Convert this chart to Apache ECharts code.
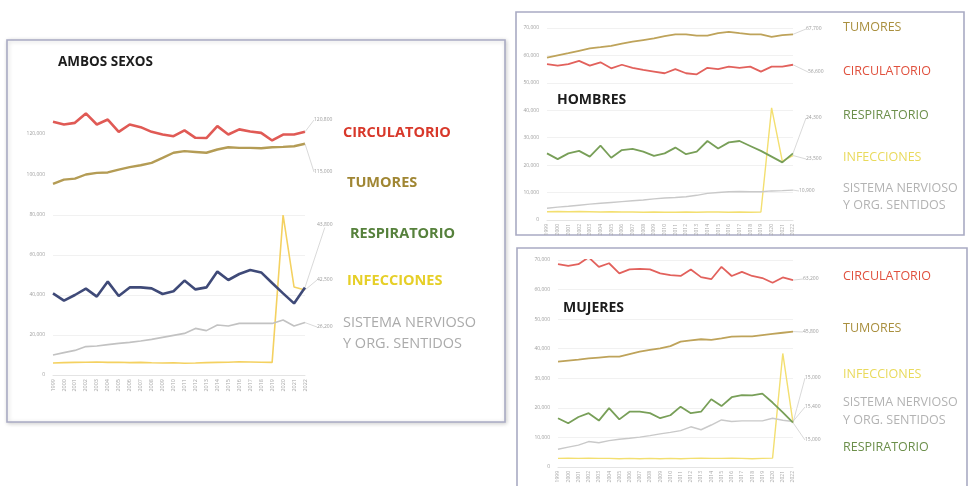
<!DOCTYPE html>
<html>
<head>
<meta charset="utf-8">
<script src="https://cdn.jsdelivr.net/npm/echarts@6/dist/echarts.min.js"></script>
<style>
  html, body { margin: 0; padding: 0; background: #ffffff; }
  #chart { width: 973px; height: 486px; }
</style>
</head>
<body>
<div id="chart"></div>
<script>
// Años (eje X)
const years = ['1999','2000','2001','2002','2003','2004','2005','2006','2007','2008','2009','2010',
               '2011','2012','2013','2014','2015','2016','2017','2018','2019','2020','2021','2022'];

// Ambos sexos: defunciones por grupo de causas
const ambosCirculatorio = [125700,124400,125200,129800,124400,126800,120800,124400,123100,120800,119500,118700,
                           121500,117900,117800,123600,119500,122000,121000,120300,116600,119500,119500,120800];
const ambosTumores      = [95400,97500,98000,100000,100800,101000,102400,103600,104500,105700,108100,110600,
                           111400,111000,110600,112200,113300,113000,113000,112800,113300,113500,113800,115000];
const ambosRespiratorio = [40800,37200,40000,43200,39200,46700,39500,43800,43800,43300,40500,41900,
                           47200,42800,43800,51700,47500,50500,52500,51300,46000,40800,35800,43800];
const ambosInfecciones  = [6000,6200,6300,6400,6500,6300,6400,6200,6300,6100,6000,6100,
                           5900,6000,6200,6300,6400,6600,6500,6400,6300,80000,44000,42500];
const ambosNervioso     = [10000,11200,12300,14200,14500,15200,15800,16300,17000,17800,18800,19800,
                           20800,23300,22200,25000,24500,25800,25800,25800,25800,27500,24500,26200];

// Hombres
const hombresTumores      = [59200,60000,60800,61700,62600,63000,63500,64300,65000,65600,66200,67000,
                             67700,67700,67200,67200,68100,68600,68100,67700,67700,66800,67400,67700];
const hombresCirculatorio = [56800,56300,56800,58000,56300,57500,55300,56600,55500,54700,54100,53500,
                             55000,53500,53100,55500,55000,55900,55500,55900,54100,55900,55900,56600];
const hombresRespiratorio = [24300,22200,24300,25200,23100,27100,22700,25500,25900,24900,23400,24300,
                             26400,24000,24900,28800,26100,28300,28800,27000,25200,23100,21000,24300];
const hombresInfecciones  = [3000,3100,3000,3100,3000,2900,3000,2900,2900,2800,2900,2800,
                             2800,2900,2800,2900,2900,2800,2900,2800,2900,40900,21500,23500];
const hombresNervioso     = [4300,4700,5000,5400,5800,6100,6400,6700,7000,7300,7700,8000,
                             8200,8500,9000,9700,10000,10300,10400,10300,10300,10600,10700,10900];

// Mujeres
const mujeresCirculatorio = [68600,68000,68600,70900,67700,68900,65500,66800,67000,66800,65500,64900,
                             64600,66800,64200,63500,67700,64600,66000,64600,63900,62300,64100,63200];
const mujeresTumores      = [35600,36000,36300,36700,37000,37300,37300,38200,39000,39600,40100,40900,
                             42400,42800,43200,43000,43500,44100,44200,44200,44600,45000,45400,45800];
const mujeresRespiratorio = [16500,14800,16900,18200,15700,19900,16100,18700,18700,18200,16500,17500,
                             20400,18200,18700,22900,20600,23600,24300,24200,24800,21800,18500,15000];
const mujeresInfecciones  = [2900,3000,2900,3000,2900,2900,2800,2900,2800,2900,2800,2900,
                             2800,2900,3000,2900,2900,3000,2900,2800,2900,3000,38400,15000];
const mujeresNervioso     = [6000,6700,7400,8600,8200,8900,9400,9700,10100,10600,11200,11700,
                             12300,13600,12600,14200,15900,15400,15600,15600,15600,16500,15800,15400];

const FONT = '"Open Sans", "Noto Sans", sans-serif';

function fmt(v) {
  return String(Math.round(v)).replace(/\B(?=(\d{3})+(?!\d))/g, ',');
}

// Línea con etiqueta de valor final unida por una guía
function lineSeries(name, values, idx, color, width, labelAt, z) {
  const last = values.length - 1;
  return {
    type: 'line',
    name: name,
    xAxisIndex: idx,
    yAxisIndex: idx,
    data: values.map((v, i) => i === last ? { value: v, label: { show: true } } : v),
    showSymbol: true,
    showAllSymbol: true,
    symbol: 'circle',
    symbolSize: 0.01,
    itemStyle: { color: color },
    lineStyle: { color: color, width: width },
    label: {
      show: false,
      formatter: p => fmt(p.value),
      fontSize: 5,
      color: '#9c9c9c',
      fontFamily: FONT
    },
    labelLine: { show: true, lineStyle: { color: '#c8c8c8', width: 0.7 } },
    labelLayout: () => ({ x: labelAt[0], y: labelAt[1], align: 'left', verticalAlign: 'middle' }),
    silent: true,
    z: z || 2
  };
}

function xAxis(idx, showLabels, fontSize) {
  return {
    type: 'category',
    gridIndex: idx,
    data: years,
    boundaryGap: false,
    axisLine: { show: showLabels, lineStyle: { color: '#e4e4e4', width: 1 } },
    axisTick: { show: false },
    axisLabel: {
      show: showLabels,
      rotate: 90,
      interval: 0,
      fontSize: fontSize,
      color: '#a8a8a8',
      margin: 4,
      fontFamily: FONT
    },
    splitLine: { show: false }
  };
}

function yAxis(idx, min, max, interval, showSplit, only) {
  return {
    type: 'value',
    gridIndex: idx,
    min: min,
    max: max,
    interval: interval,
    axisLine: { show: false },
    axisTick: { show: false },
    axisLabel: {
      fontSize: 5,
      color: '#a0a0a0',
      margin: 8,
      fontFamily: FONT,
      formatter: v => (only && only.indexOf(v) < 0) ? '' : fmt(v)
    },
    splitLine: { show: showSplit, lineStyle: { color: '#ededed', width: 0.8 } }
  };
}

function label(text, x, y, color, size, weight) {
  return {
    type: 'text',
    x: x,
    y: y,
    silent: true,
    style: {
      text: text,
      fill: color,
      font: (weight || 'normal') + ' ' + size + 'px ' + FONT,
      align: 'left',
      verticalAlign: 'middle'
    }
  };
}

function panel(x, y, w, h, shadow) {
  return {
    type: 'rect',
    silent: true,
    z: -1,
    shape: { x: x, y: y, width: w, height: h },
    style: {
      fill: '#ffffff',
      stroke: '#a9abc3',
      lineWidth: 1.6,
      shadowBlur: shadow ? 4 : 0,
      shadowColor: 'rgba(0,0,0,0.18)',
      shadowOffsetX: shadow ? 1 : 0,
      shadowOffsetY: shadow ? 1 : 0
    }
  };
}

const C = {
  circ: '#e05a55', tum: '#b49c55', resp: '#3f4a78', inf: '#f4d160', nerv: '#c2c2c2',
  circR: '#e2615c', tumR: '#bea35a', respR: '#789f58', infR: '#f3df70', nervR: '#c9c9c9'
};

const option = {
  backgroundColor: '#ffffff',
  animation: false,
  grid: [
    { left: 53,  top: 113, width: 252, height: 82,  outerBoundsMode: 'none' },
    { left: 53,  top: 215, width: 252, height: 160, outerBoundsMode: 'none' },
    { left: 547, top: 28,  width: 246, height: 192, outerBoundsMode: 'none' },
    { left: 558, top: 260, width: 235, height: 207, outerBoundsMode: 'none' }
  ],
  xAxis: [xAxis(0, false, 5), xAxis(1, true, 5.5), xAxis(2, true, 5), xAxis(3, true, 5)],
  yAxis: [
    yAxis(0, 90000, 130000, 10000, false, [100000, 120000]),
    yAxis(1, 0, 80000, 20000, true),
    yAxis(2, 0, 70000, 10000, true),
    yAxis(3, 0, 70000, 10000, true)
  ],
  series: [
    lineSeries('Circulatorio', ambosCirculatorio, 0, C.circ, 2.6, [314, 120], 3),
    lineSeries('Tumores', ambosTumores, 0, C.tum, 2.4, [314, 172], 2),
    lineSeries('Infecciones', ambosInfecciones, 1, C.inf, 1.6, [317, 280], 2),
    lineSeries('Sistema nervioso', ambosNervioso, 1, C.nerv, 1.6, [317, 327], 2),
    lineSeries('Respiratorio', ambosRespiratorio, 1, C.resp, 2.6, [317, 225], 3),

    lineSeries('Tumores', hombresTumores, 2, C.tumR, 1.8, [806, 29], 2),
    lineSeries('Circulatorio', hombresCirculatorio, 2, C.circR, 1.8, [808, 72], 2),
    lineSeries('Infecciones', hombresInfecciones, 2, C.infR, 1.4, [806, 159], 2),
    lineSeries('Sistema nervioso', hombresNervioso, 2, C.nervR, 1.4, [799, 191], 2),
    lineSeries('Respiratorio', hombresRespiratorio, 2, C.respR, 1.8, [806, 118], 3),

    lineSeries('Circulatorio', mujeresCirculatorio, 3, C.circR, 1.8, [803, 279], 2),
    lineSeries('Tumores', mujeresTumores, 3, C.tumR, 1.8, [803, 332], 2),
    lineSeries('Infecciones', mujeresInfecciones, 3, C.infR, 1.4, [805, 378], 2),
    lineSeries('Sistema nervioso', mujeresNervioso, 3, C.nervR, 1.4, [805, 407], 2),
    lineSeries('Respiratorio', mujeresRespiratorio, 3, C.respR, 1.8, [805, 440], 3)
  ],
  graphic: [
    panel(7, 40, 498, 382, true),
    panel(516, 12, 448, 223, false),
    panel(517, 248, 450, 250, false),

    label('AMBOS SEXOS', 58, 62, '#1c1c1c', 13.5, 'bold'),
    label('CIRCULATORIO', 343, 133, '#d8382a', 14.5, 'bold'),
    label('TUMORES', 347, 183, '#a08633', 14.5, 'bold'),
    label('RESPIRATORIO', 350, 234, '#56813c', 14.5, 'bold'),
    label('INFECCIONES', 347, 281, '#e6cf28', 14.5, 'bold'),
    label('SISTEMA NERVIOSO', 343, 323, '#ababab', 14.5),
    label('Y ORG. SENTIDOS', 343, 344, '#ababab', 14.5),

    label('HOMBRES', 557, 100, '#1c1c1c', 14, 'bold'),
    label('TUMORES', 843, 27, '#a98f3e', 12.5),
    label('CIRCULATORIO', 843, 71, '#e0503d', 12.5),
    label('RESPIRATORIO', 843, 115, '#6c8f4b', 12.5),
    label('INFECCIONES', 843, 157, '#e9da5c', 12.5),
    label('SISTEMA NERVIOSO', 843, 188, '#b3b3b3', 12.5),
    label('Y ORG. SENTIDOS', 843, 205, '#b3b3b3', 12.5),

    label('MUJERES', 563, 308, '#1c1c1c', 14, 'bold'),
    label('CIRCULATORIO', 843, 276, '#e0503d', 12.5),
    label('TUMORES', 843, 328, '#a98f3e', 12.5),
    label('INFECCIONES', 843, 374, '#e9da5c', 12.5),
    label('SISTEMA NERVIOSO', 843, 402, '#b3b3b3', 12.5),
    label('Y ORG. SENTIDOS', 843, 420, '#b3b3b3', 12.5),
    label('RESPIRATORIO', 843, 447, '#6c8f4b', 12.5)
  ]
};

const chart = echarts.init(document.getElementById('chart'), null, { renderer: 'canvas' });
chart.setOption(option);
</script>
</body>
</html>
